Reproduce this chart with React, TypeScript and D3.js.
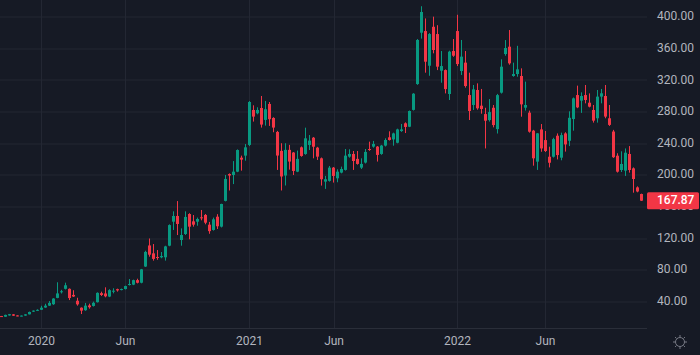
import React from "react";
import * as d3 from "d3";

// weekly bars, Monday dates
const firstWeek = "2019-10-28";
const lastWeek = "2022-11-21";

const opens = [
  21.8, 21.0, 22.6, 24.0, 22.6, 22.0, 22.4, 24.0, 27.4, 28.6,
  29.8, 32.6, 35.0, 36.8, 44.8, 52.2, 56.3, 56.3, 48.6, 41.2,
  32.4, 29.2, 35.3, 34.6, 39.4, 50.8, 50.4, 46.5, 53.0, 55.9,
  55.2, 56.0, 61.5, 61.6, 67.3, 64.0, 84.5, 111.2, 101.2, 96.6,
  96.2, 96.2, 110.9, 141.3, 148.5, 118.1, 125.7, 151.0, 141.7, 141.3,
  146.8, 149.8, 137.5, 130.8, 147.6, 135.0, 167.6, 201.6, 200.4, 204.6,
  222.3, 224.9, 238.4, 282.7, 278.5, 285.2, 270.1, 290.3, 272.6, 254.9,
  230.9, 199.7, 232.2, 228.8, 204.6, 235.4, 227.0, 238.4, 247.6, 235.0,
  221.5, 192.0, 192.9, 209.7, 196.2, 203.4, 206.8, 223.6, 227.0, 220.8,
  209.7, 216.1, 233.3, 236.3, 236.3, 227.0, 237.6, 248.1, 245.4, 241.2,
  256.0, 265.8, 261.5, 282.8, 315.5, 380.5, 382.6, 338.7, 388.0, 378.8,
  332.4, 333.2, 302.9, 357.3, 382.6, 332.0, 342.6, 301.6, 289.0, 308.0,
  288.1, 277.5, 269.9, 285.5, 258.5, 304.6, 353.5, 362.8, 325.7, 328.2,
  325.7, 285.6, 279.3, 256.5, 217.3, 258.1, 244.6, 223.5, 223.5, 250.1,
  222.3, 253.0, 243.7, 271.2, 301.6, 294.5, 301.6, 291.9, 282.7, 272.2,
  299.6, 300.4, 272.2, 255.4, 224.8, 206.7, 205.9, 227.0, 208.8, 184.7,
  176.3,
];
const highs = [
  22.0, 23.6, 24.5, 24.3, 22.8, 22.6, 24.2, 27.5, 29.0, 30.4,
  34.8, 37.4, 40.8, 44.5, 64.6, 55.0, 64.1, 56.8, 54.5, 45.0,
  32.8, 38.4, 37.5, 40.1, 51.8, 52.7, 58.2, 55.8, 57.0, 56.5,
  56.6, 60.3, 68.7, 67.9, 69.1, 81.5, 104.5, 120.0, 113.0, 105.4,
  102.9, 110.8, 137.9, 154.4, 167.4, 132.8, 154.4, 152.0, 149.7, 146.5,
  156.1, 151.0, 141.0, 146.5, 150.8, 164.0, 200.4, 202.4, 218.0, 232.8,
  224.9, 239.6, 294.0, 288.6, 286.1, 300.4, 294.1, 292.8, 273.5, 256.2,
  240.6, 240.6, 238.5, 229.5, 231.3, 236.5, 260.3, 251.0, 248.5, 236.0,
  222.5, 199.2, 211.8, 210.5, 207.6, 211.0, 233.3, 232.9, 230.8, 230.8,
  221.5, 233.3, 242.6, 243.5, 237.0, 238.5, 246.8, 255.7, 254.0, 259.0,
  265.0, 267.0, 282.0, 304.0, 372.5, 414.0, 398.6, 380.0, 400.8, 390.0,
  357.3, 334.0, 357.7, 372.5, 403.2, 371.3, 357.3, 329.9, 314.3, 316.4,
  309.3, 285.5, 296.5, 289.0, 303.0, 346.8, 371.2, 383.9, 342.6, 363.9,
  335.4, 318.6, 281.9, 257.5, 253.5, 264.9, 256.1, 236.2, 247.5, 253.0,
  254.0, 254.5, 281.0, 298.5, 313.5, 305.0, 314.3, 303.7, 289.0, 308.0,
  309.3, 314.3, 289.0, 257.5, 227.9, 230.4, 234.0, 237.0, 210.0, 186.0,
  176.8,
];
const lows = [
  20.7, 20.9, 22.4, 22.0, 21.7, 21.8, 22.2, 23.9, 27.0, 28.2,
  29.5, 32.3, 34.6, 36.0, 44.4, 50.4, 55.5, 42.1, 46.0, 35.0,
  24.4, 28.5, 31.2, 33.9, 39.0, 47.2, 45.6, 45.8, 50.6, 52.8,
  54.4, 55.5, 60.5, 61.0, 63.2, 63.3, 84.0, 97.0, 92.0, 93.0,
  95.0, 92.0, 110.2, 130.8, 124.4, 110.9, 124.5, 119.0, 135.0, 136.2,
  143.0, 138.0, 126.0, 130.0, 132.0, 134.0, 167.0, 180.8, 188.9, 204.0,
  205.9, 218.5, 237.0, 268.0, 277.2, 260.4, 262.9, 262.5, 254.5, 206.8,
  180.8, 187.1, 207.2, 200.4, 204.0, 223.5, 226.0, 232.0, 221.5, 219.4,
  187.0, 182.8, 192.0, 190.8, 191.2, 202.5, 206.0, 222.3, 206.8, 213.5,
  208.0, 215.0, 231.0, 235.0, 217.4, 226.0, 236.5, 244.0, 237.5, 240.5,
  255.0, 253.5, 261.0, 282.0, 314.5, 373.0, 329.9, 326.0, 354.4, 333.2,
  317.2, 303.7, 295.3, 350.0, 338.3, 327.0, 311.0, 270.0, 282.7, 283.0,
  278.0, 234.0, 268.0, 260.7, 252.9, 303.5, 351.4, 340.0, 324.8, 324.8,
  274.2, 281.9, 254.0, 212.2, 206.8, 229.8, 229.5, 210.0, 222.5, 220.1,
  219.0, 230.0, 237.0, 256.5, 285.0, 279.0, 291.1, 286.0, 266.7, 266.7,
  291.1, 272.2, 262.5, 222.0, 203.5, 204.2, 199.2, 203.4, 178.0, 178.5,
  167.5,
];
const closes = [
  21.0, 23.3, 24.2, 22.3, 22.0, 22.4, 24.0, 27.0, 28.7, 29.7,
  32.4, 35.0, 38.5, 44.0, 50.5, 53.2, 60.8, 44.6, 46.6, 36.6,
  28.7, 35.0, 33.0, 38.6, 51.2, 48.5, 46.8, 54.6, 53.9, 54.3,
  56.0, 59.8, 62.4, 67.3, 64.0, 81.0, 103.0, 99.5, 94.2, 95.8,
  97.8, 110.0, 137.0, 148.5, 138.4, 124.4, 147.3, 135.0, 137.5, 144.7,
  146.0, 140.0, 129.3, 144.3, 135.5, 163.7, 195.4, 199.7, 204.6, 232.0,
  219.8, 235.4, 292.8, 274.3, 282.7, 264.2, 283.6, 271.0, 260.4, 225.0,
  198.5, 232.2, 217.4, 205.5, 220.8, 224.5, 246.8, 243.9, 236.2, 223.6,
  195.0, 195.0, 209.7, 199.2, 204.6, 208.0, 224.9, 227.0, 218.1, 214.4,
  214.4, 229.6, 232.1, 239.7, 225.8, 237.6, 244.7, 244.7, 253.0, 258.1,
  258.1, 261.2, 281.4, 303.3, 371.3, 406.7, 343.8, 378.8, 358.6, 337.5,
  338.3, 309.1, 356.5, 351.4, 340.8, 350.2, 313.0, 281.4, 308.8, 284.8,
  283.9, 269.1, 280.0, 263.6, 301.5, 337.5, 361.1, 341.7, 328.2, 334.1,
  289.8, 289.0, 255.2, 221.5, 253.1, 234.0, 230.7, 215.9, 245.8, 225.6,
  250.9, 239.1, 272.8, 297.4, 286.0, 300.4, 295.3, 286.9, 269.2, 299.6,
  303.8, 274.3, 263.8, 222.9, 204.6, 214.3, 228.6, 206.7, 195.3, 179.5,
  167.87,
];

const priceTicks = [40, 80, 120, 160, 200, 240, 280, 320, 360, 400];
const timeTicks = [
  { date: "2020-01-06", label: "2020" },
  { date: "2020-06-01", label: "Jun" },
  { date: "2021-01-04", label: "2021" },
  { date: "2021-06-01", label: "Jun" },
  { date: "2022-01-03", label: "2022" },
  { date: "2022-06-06", label: "Jun" },
];

const width = 700;
const height = 355;
const plotRight = 647;
const plotBottom = 328;
const up = "#089981";
const down = "#f23645";
const textColor = "#b2b5be";
const gridColor = "#232733";
const font = "Roboto, 'Liberation Sans', sans-serif";

export default function App() {
  const parse = d3.utcParse("%Y-%m-%d");
  const dates = d3.utcMonday.range(parse(firstWeek)!, d3.utcDay.offset(parse(lastWeek)!, 1));

  const x = d3
    .scaleUtc()
    .domain([dates[0], dates[dates.length - 1]])
    .range([1, 641]);

  const y = d3.scaleLinear().domain([0, 400]).range([333.3, 17.3]);
  const fmt = d3.format(".2f");

  const bars = dates.map((d, i) => ({
    date: d,
    o: opens[i],
    h: highs[i],
    l: lows[i],
    c: closes[i],
  }));

  const last = bars[bars.length - 1];
  const lastY = y(last.c);

  // little gear/sun icon in the corner
  const gx = 680;
  const gy = 342;
  const rays = d3.range(8).map((k) => (k * Math.PI) / 4);

  return (
    <svg
      width={width}
      height={height}
      style={{ position: "fixed", left: 0, top: 0, display: "block" }}
    >
      <rect x={0} y={0} width={width} height={height} fill="#161a25" />
      <defs>
        <clipPath id="plot">
          <rect x={0} y={0} width={plotRight} height={plotBottom} />
        </clipPath>
      </defs>

      {/* grid */}
      <g>
        {priceTicks.map((t) => (
          <rect key={t} x={0} y={Math.round(y(t)) - 0.5} width={plotRight} height={1} fill={gridColor} />
        ))}
        {timeTicks.map((t) => (
          <rect
            key={t.date}
            x={Math.round(x(parse(t.date)!))}
            y={0}
            width={1}
            height={plotBottom}
            fill={gridColor}
          />
        ))}
      </g>

      {/* candles */}
      <g clipPath="url(#plot)">
        {bars.map((b) => {
          const cx = Math.round(x(b.date));
          const color = b.c >= b.o ? up : down;
          const top = y(Math.max(b.o, b.c));
          const bot = y(Math.min(b.o, b.c));
          return (
            <g key={+b.date}>
              <rect x={cx} y={y(b.h)} width={1} height={Math.max(1, y(b.l) - y(b.h))} fill={color} />
              <rect x={cx - 1} y={top} width={3} height={Math.max(1, bot - top)} fill={color} />
            </g>
          );
        })}
      </g>

      {/* time axis border */}
      <rect x={0} y={plotBottom} width={plotRight} height={1} fill="#2a2e39" />

      {/* time labels */}
      {timeTicks.map((t) => (
        <text
          key={t.date}
          x={x(parse(t.date)!) + 0.5}
          y={342}
          fill={textColor}
          fontFamily={font}
          fontSize={12}
          textAnchor="middle"
          dominantBaseline="middle"
        >
          {t.label}
        </text>
      ))}

      {/* price labels */}
      {priceTicks.map((t) => (
        <text
          key={t}
          x={657}
          y={y(t)}
          fill={textColor}
          fontFamily={font}
          fontSize={12}
          dominantBaseline="middle"
        >
          {fmt(t)}
        </text>
      ))}

      {/* last price */}
      <rect x={647} y={lastY - 8.5} width={52} height={17} rx={1.5} fill={down} />
      <text
        x={657}
        y={lastY + 0.5}
        fill="#ffffff"
        fontFamily={font}
        fontSize={12}
        fontWeight={500}
        dominantBaseline="middle"
      >
        {fmt(last.c)}
      </text>

      {/* settings icon */}
      <g stroke="#787b86" strokeWidth={1} fill="none">
        <circle cx={gx} cy={gy} r={4.5} />
        {rays.map((a, k) => (
          <line
            key={k}
            x1={gx + Math.cos(a) * 5}
            y1={gy + Math.sin(a) * 5}
            x2={gx + Math.cos(a) * 7}
            y2={gy + Math.sin(a) * 7}
          />
        ))}
      </g>
    </svg>
  );
}
